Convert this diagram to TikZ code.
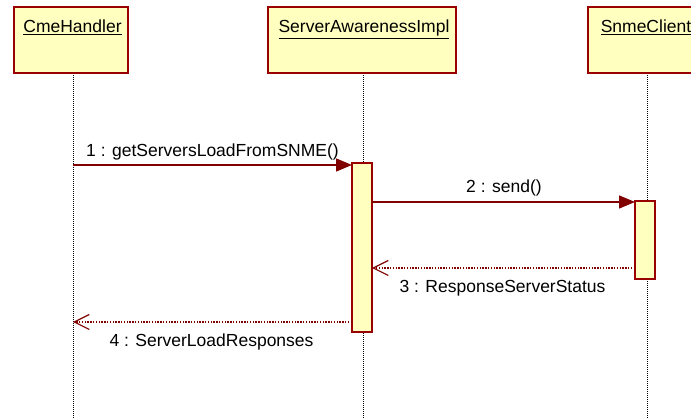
\documentclass[tikz,border=0pt]{standalone}
\usepackage{fontspec}
\setmainfont{Liberation Sans}
\usetikzlibrary{arrows.meta}
\definecolor{boxfill}{RGB}{255,255,192}
\definecolor{boxline}{RGB}{153,0,0}
\definecolor{msgline}{RGB}{128,0,0}
\tikzset{
  lifebox/.style={draw=boxline, fill=boxfill, line width=1.5pt},
  actbar/.style={draw=boxline, fill=boxfill, line width=1.5pt},
  lifeline/.style={black, line width=1pt, dash pattern=on 1pt off 1pt},
  call/.style={msgline, line width=1.5pt, -{Triangle[length=16pt,width=13pt]}},
  reply/.style={msgline, line width=1.4pt, dash pattern=on 1.4pt off 1.4pt, -{Straight Barb[length=15pt,width=15pt,line width=1.2pt]}},
  lbl/.style={font=\fontsize{17.5pt}{20pt}\selectfont, inner sep=0pt, anchor=base},
  title/.style={font=\fontsize{17.5pt}{20pt}\selectfont, inner sep=0pt, anchor=base}
}
\begin{document}
\begin{tikzpicture}[x=1pt,y=-1pt]
\useasboundingbox (0,0) rectangle (691,419);
\begin{scope}
\clip (0,0) rectangle (691,419);
% lifelines
\draw[lifeline] (73,73) -- (73,419);
\draw[lifeline] (363,73) -- (363,419);
\draw[lifeline] (647,73) -- (647,419);
% object boxes
\draw[lifebox] (14,7) rectangle (128,73);
\draw[lifebox] (268,7) rectangle (456,73);
\draw[lifebox] (588,7) rectangle (706,73);
\node[title] (cme) at (72.5,33) {\underline{CmeHandler}};
\node[title] (sai) at (364,33) {\underline{ServerAwarenessImpl}};
\node[title] (snme) at (646,33) {\underline{SnmeClient}};
% activation bars
\draw[actbar] (352,163) rectangle (372,332);
\draw[actbar] (635,201) rectangle (655,279);
\coordinate (m1s) at (73,165);
\coordinate (m1e) at (352,165);
\coordinate (m2s) at (372,202);
\coordinate (m2e) at (635,202);
\coordinate (m3s) at (635,268);
\coordinate (m3e) at (372,268);
\coordinate (m4s) at (352,322);
\coordinate (m4e) at (73,322);
\end{scope}
% messages
\draw[call] (m1s) -- (m1e);
\draw[call] (m2s) -- (m2e);
\draw[reply] (m3s) -- (m3e);
\draw[reply] (m4s) -- (m4e);
\node[lbl] (l1) at (212.5,157) {1 : getServersLoadFromSNME()};
\node[lbl] (l2) at (504,193) {2 : send()};
\node[lbl] (l3) at (502.5,293) {3 : ResponseServerStatus};
\node[lbl] (l4) at (211.5,347) {4 : ServerLoadResponses};
\end{tikzpicture}
\end{document}
